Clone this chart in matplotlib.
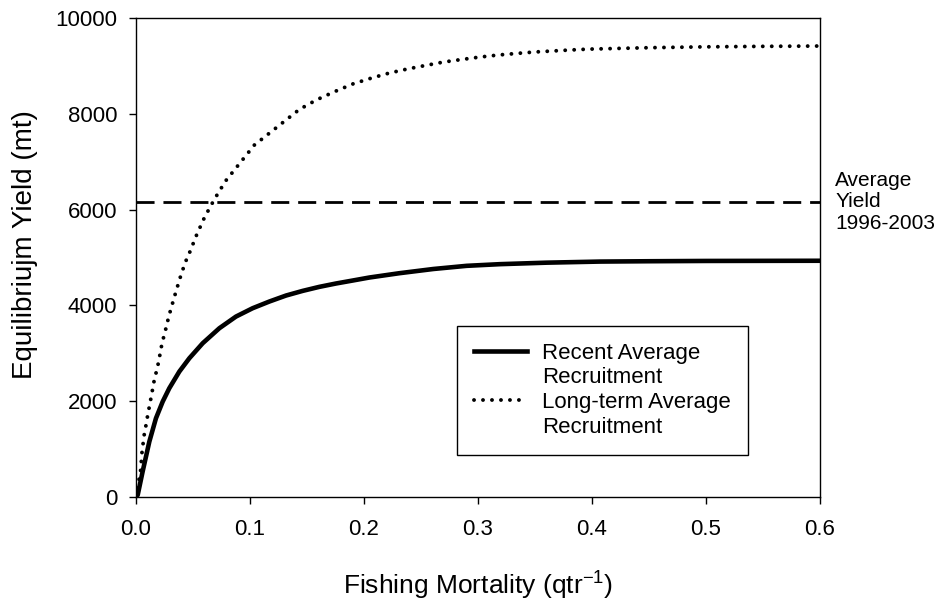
import matplotlib
matplotlib.use('Agg')
import matplotlib.pyplot as plt
from matplotlib.lines import Line2D

plt.rcParams['font.family'] = ['Liberation Sans', 'DejaVu Sans']

# values
f_recent = [0.0, 0.0015, 0.0058, 0.0117, 0.0175, 0.0234, 0.0292, 0.038, 0.0468,
            0.0585, 0.0731, 0.0877, 0.1023, 0.117, 0.1316, 0.1462, 0.1608, 0.1754,
            0.19, 0.2047, 0.231, 0.2608, 0.29, 0.3193, 0.36, 0.407, 0.45, 0.5,
            0.55, 0.6]
y_recent = [0, 42, 529, 1156, 1643, 1991, 2270, 2618, 2897,
            3210, 3523, 3767, 3941, 4081, 4206, 4303, 4387, 4457,
            4519, 4582, 4672, 4760, 4826, 4861, 4892, 4915, 4922, 4928,
            4930, 4932]

f_long = [0.0, 0.0041, 0.0053, 0.0073, 0.0088, 0.0102, 0.0117, 0.0132, 0.0146,
          0.0161, 0.0181, 0.0199, 0.0213, 0.0228, 0.0249, 0.0269, 0.0287, 0.031,
          0.0333, 0.0357, 0.038, 0.0406, 0.0433, 0.0468, 0.0532, 0.0602, 0.069,
          0.0787, 0.1038, 0.1433, 0.1585, 0.1746, 0.1906, 0.2067, 0.2222, 0.238,
          0.2541, 0.2699, 0.286, 0.3018, 0.3178, 0.3339, 0.3494, 0.3652, 0.381,
          0.3968, 0.45, 0.5, 0.55, 0.6]
y_long = [0, 564, 946, 1316, 1504, 1699, 1887, 2075, 2256,
          2451, 2639, 2827, 3015, 3203, 3398, 3579, 3767, 3955,
          4150, 4338, 4526, 4714, 4903, 5091, 5473, 5843, 6225,
          6601, 7347, 8091, 8293, 8467, 8627, 8747, 8851, 8935,
          9010, 9081, 9135, 9185, 9227, 9260, 9290, 9311, 9332,
          9350, 9380, 9398, 9408, 9415]

avg_yield = 6165
avg_label = 'Average\nYield\n1996-2003'

x_ticks = [0.0, 0.1, 0.2, 0.3, 0.4, 0.5, 0.6]
y_ticks = [0, 2000, 4000, 6000, 8000, 10000]

fig = plt.figure(figsize=(9.48, 6.04), dpi=100)
ax = fig.add_axes([136/948, 107/604, 684/948, 479/604])

ax.plot(f_recent, y_recent, color='black', lw=3.3, solid_capstyle='round',
        solid_joinstyle='round')
ax.plot(f_long, y_long, color='black', lw=2.8, linestyle=(0, (0.01, 2.3)),
        dash_capstyle='round')
ax.axhline(avg_yield, color='black', lw=2.0, linestyle=(0, (6.5, 3.2)))

ax.set_xlim(0, 0.6)
ax.set_ylim(0, 10000)
ax.set_xticks(x_ticks)
ax.set_xticklabels([f'{t:.1f}' for t in x_ticks])
ax.set_yticks(y_ticks)
ax.tick_params(axis='x', direction='out', length=5, width=1, pad=11, labelsize=16)
ax.tick_params(axis='y', direction='out', length=5, width=1, pad=8.5, labelsize=16)
for s in ax.spines.values():
    s.set_linewidth(1.0)

ax.set_xlabel(r'Fishing Mortality (qtr$\mathregular{^{-1}}$)', fontsize=19, labelpad=21)
ax.set_ylabel('Equilibriujm Yield (mt)', fontsize=20)
ax.yaxis.set_label_coords(-0.143, 0.526)

ax.text(1.022, 0.616, avg_label, transform=ax.transAxes, ha='left', va='center',
        fontsize=15, linespacing=1.15)

handles = [Line2D([], [], color='black', lw=3.3),
           Line2D([], [], color='none'),
           Line2D([], [], color='black', lw=2.8, linestyle=(0, (0.01, 2.3)),
                  dash_capstyle='round'),
           Line2D([], [], color='none')]
labels = ['Recent Average', 'Recruitment', 'Long-term Average', 'Recruitment']
leg = ax.legend(handles, labels, loc='upper left', bbox_to_anchor=(0.4693, 0.357),
                borderaxespad=0, fontsize=16, handlelength=2.4, handletextpad=0.68,
                labelspacing=0.17, borderpad=0.75, fancybox=False, framealpha=1)
leg.get_frame().set_edgecolor('black')
leg.get_frame().set_linewidth(1.0)

fig.savefig('out.png', dpi=100)
